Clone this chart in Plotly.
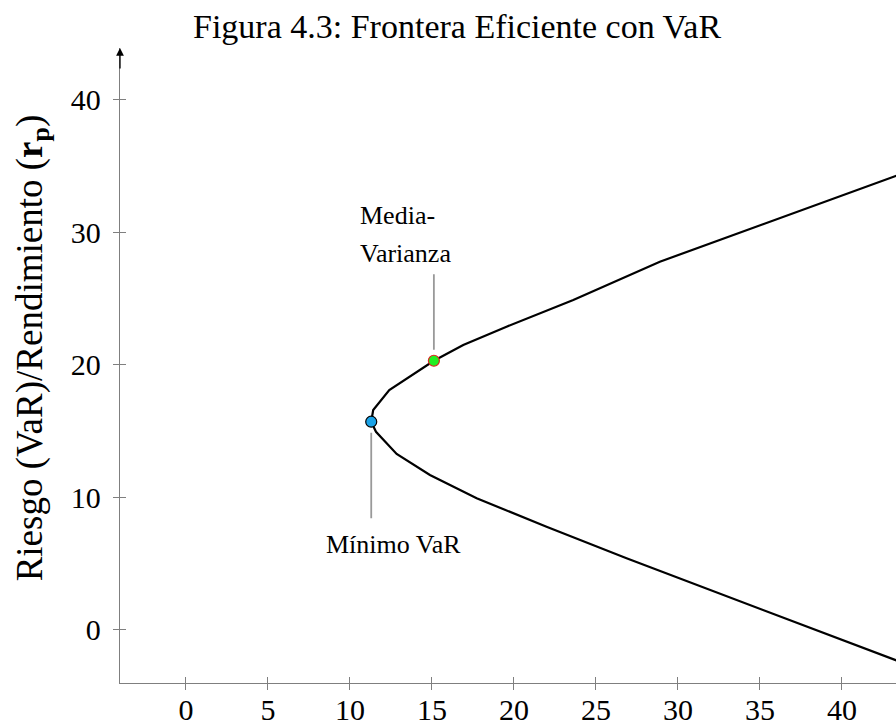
import plotly.graph_objects as go

# Frontier (VaR vs return): lower branch then upper branch
var_frontier = [43.4, 26.87, 21.99, 17.73, 14.88, 12.85, 11.59, 11.30, 11.42, 12.40, 15.12, 16.91, 19.55, 23.62, 28.90, 43.4]
ret_frontier = [-2.35, 5.39, 7.77, 9.92, 11.68, 13.26, 14.94, 15.70, 16.58, 18.09, 20.30, 21.49, 22.87, 24.88, 27.77, 34.30]

min_var_x = [11.30]
min_var_y = [15.70]
mv_x = [15.12]
mv_y = [20.30]

x_ticks = [0, 5, 10, 15, 20, 25, 30, 35, 40]
y_ticks = [0, 10, 20, 30, 40]
x_range = [-4.02, 43.3]
y_range = [-4.02, 43.9]

FONT = "Liberation Serif"
GRAY = "#7f7f7f"

fig = go.Figure()
fig.add_trace(go.Scatter(x=var_frontier, y=ret_frontier, mode="lines",
                         line=dict(color="black", width=2.2), hoverinfo="skip", showlegend=False))
fig.add_trace(go.Scatter(x=min_var_x, y=min_var_y, mode="markers",
                         marker=dict(size=11, color="#1aa3e8", line=dict(color="black", width=1.2)),
                         showlegend=False))
fig.add_trace(go.Scatter(x=mv_x, y=mv_y, mode="markers",
                         marker=dict(size=11, color="#22ee22", line=dict(color="#e02020", width=1.2)),
                         showlegend=False))
# invisible trace for the overlay axes (ticks crossing the axis lines)
fig.add_trace(go.Scatter(x=x_range, y=y_range, xaxis="x2", yaxis="y2", mode="markers",
                         marker=dict(opacity=0), hoverinfo="skip", showlegend=False))

axis_common = dict(showgrid=False, zeroline=False, tickcolor=GRAY, tickwidth=1, ticklen=6,
                   automargin=False, tickfont=dict(family=FONT, size=30, color="black"))

fig.update_layout(
    width=896, height=725,
    margin=dict(l=120, r=0, t=48, b=42),
    paper_bgcolor="white", plot_bgcolor="white",
    xaxis=dict(range=x_range, tickvals=x_ticks, ticks="outside", showline=True,
               linecolor=GRAY, linewidth=1.3, ticklabelstandoff=-6, **axis_common),
    yaxis=dict(range=y_range, tickvals=y_ticks, ticks="outside", showline=True,
               linecolor=GRAY, linewidth=1.3, ticklabelstandoff=6, **axis_common),
    xaxis2=dict(overlaying="x", matches="x", tickvals=x_ticks, ticks="inside",
                showticklabels=False, showline=False, **axis_common),
    yaxis2=dict(overlaying="y", matches="y", tickvals=y_ticks, ticks="inside",
                showticklabels=False, showline=False, **axis_common),
    showlegend=False,
)

annotations = [
    # title
    dict(text="Figura 4.3: Frontera Eficiente con VaR", xref="paper", yref="paper",
         x=0.434, y=1, yshift=1, yanchor="bottom", showarrow=False,
         font=dict(family=FONT, size=34, color="black")),
    # y-axis title
    dict(text="Riesgo (VaR)/Rendimiento (<b>r</b><sub><b>p</b></sub>)", xref="paper", yref="paper",
         x=0, y=0.527, xanchor="center", yanchor="middle", xshift=-88, textangle=-90, showarrow=False,
         font=dict(family=FONT, size=37, color="black")),
    # arrow at the top of the y axis
    dict(x=x_range[0], y=y_range[1], xref="x", yref="y", ax=0, ay=22, text="",
         showarrow=True, arrowhead=2, arrowsize=1.2, arrowwidth=1.3, arrowcolor="black"),
    # pin line: Mínimo VaR
    dict(x=min_var_x[0], y=min_var_y[0], xref="x", yref="y", ax=0, ay=98, text="",
         showarrow=True, arrowhead=0, arrowwidth=1.8, arrowcolor="#999999", standoff=11),
    dict(text="Mínimo VaR", x=min_var_x[0], y=min_var_y[0], xref="x", yref="y",
         yanchor="top", yshift=-106, xshift=22, showarrow=False,
         font=dict(family=FONT, size=26, color="black")),
    # pin line: Media-Varianza
    dict(x=mv_x[0], y=mv_y[0], xref="x", yref="y", ax=0, ay=-88, text="",
         showarrow=True, arrowhead=0, arrowwidth=1.8, arrowcolor="#999999", standoff=11),
    dict(text="Media-", x=mv_x[0], y=mv_y[0], xref="x", yref="y",
         xanchor="left", yanchor="top", align="left", yshift=162, xshift=-76, showarrow=False,
         font=dict(family=FONT, size=26, color="black")),
    dict(text="Varianza", x=mv_x[0], y=mv_y[0], xref="x", yref="y",
         xanchor="left", yanchor="top", align="left", yshift=124, xshift=-76, showarrow=False,
         font=dict(family=FONT, size=26, color="black")),
]
fig.update_layout(annotations=annotations)

fig.write_html("out.html", config={"displayModeBar": False},
               post_script="document.body.style.margin='0';document.body.style.overflow='hidden';")
